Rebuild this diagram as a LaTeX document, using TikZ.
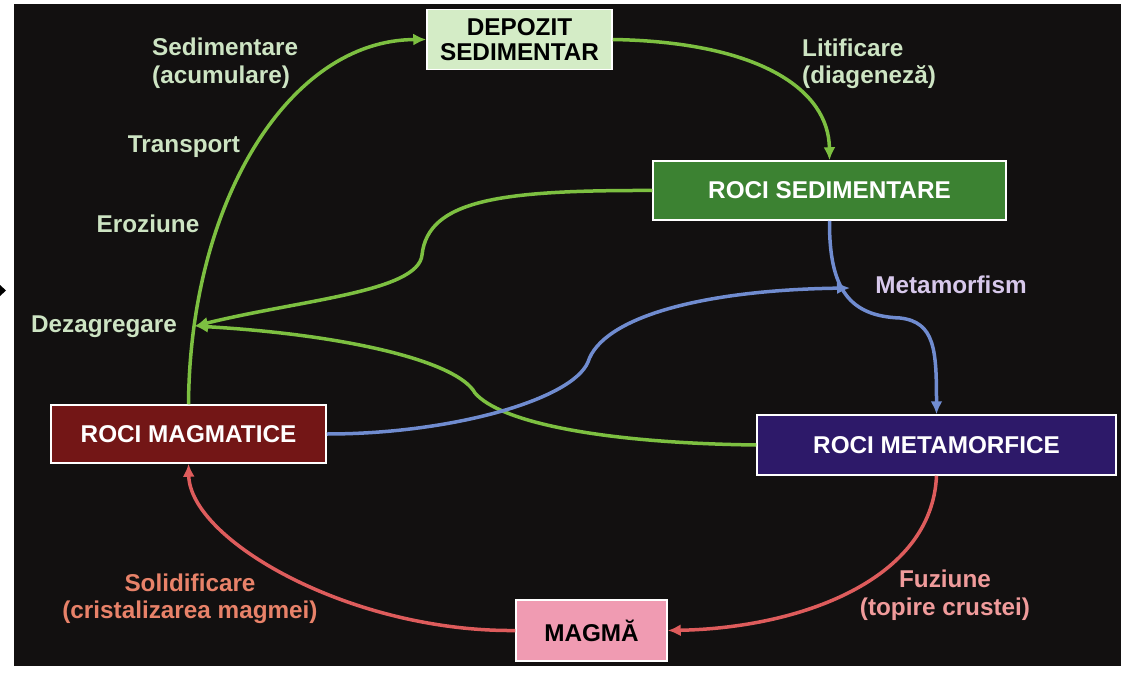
\documentclass[tikz,border=0pt]{standalone}
\usepackage{fontspec}
\setmainfont{Liberation Sans}
\usetikzlibrary{arrows.meta}
\definecolor{bgc}{RGB}{18,16,16}
\definecolor{lgreen}{RGB}{205,228,195}
\definecolor{lmeta}{RGB}{215,200,235}
\definecolor{lfuz}{RGB}{240,155,155}
\definecolor{lsol}{RGB}{232,130,105}
\definecolor{cdep}{RGB}{212,236,198}
\definecolor{csed}{RGB}{60,130,50}
\definecolor{cmag}{RGB}{115,22,22}
\definecolor{cmeta}{RGB}{45,25,105}
\definecolor{cmagma}{RGB}{240,155,178}
\definecolor{agreen}{RGB}{125,192,65}
\definecolor{ablue}{RGB}{112,140,208}
\definecolor{ared}{RGB}{222,92,92}
\begin{document}
\begin{tikzpicture}[x=1pt,y=-1pt,
  font=\fontsize{24.3}{27.5}\selectfont\bfseries,
  box/.style={draw=white, line width=1.5pt, inner sep=0pt, align=center},
  lab/.style={inner sep=0pt},
  conn/.style={line width=3.5pt, -{Latex[length=13pt,width=12pt]}}]
\useasboundingbox (0,0) rectangle (1124,677);
\fill[bgc] (14,4) rectangle (1121,666);
\fill[black] (0,285) -- (6,290.5) -- (0,296) -- cycle;

\node[box, fill=cdep, text=black, minimum width=185pt, minimum height=60pt] (dep) at (519.5,39.5) {DEPOZIT\\[-2pt]SEDIMENTAR};
\node[box, fill=csed, text=white, minimum width=353pt, minimum height=59pt] (sed) at (829.5,190.5) {ROCI SEDIMENTARE};
\node[box, fill=cmag, text=white, minimum width=275pt, minimum height=58pt] (mag) at (188.5,434) {ROCI MAGMATICE};
\node[box, fill=cmeta, text=white, minimum width=359pt, minimum height=60pt] (meta) at (936.5,445) {ROCI METAMORFICE};
\node[box, fill=cmagma, text=black, minimum width=151pt, minimum height=61pt] (magma) at (591.5,630.5) {MAGMĂ};

\node[lab, text=lgreen, anchor=west, align=left] (lsed) at (152,63) {Sedimentare\\(acumulare)};
\node[lab, text=lgreen] (ltr) at (184,147) {Transport};
\node[lab, text=lgreen] (ler) at (148,224) {Eroziune};
\node[lab, text=lgreen] (ldez) at (104,327) {Dezagregare};
\node[lab, text=lgreen, anchor=west, align=left] (llit) at (802,64) {Litificare\\(diageneză)};
\node[lab, text=lmeta] (lmet) at (951,285) {Metamorfism};
\node[lab, text=lfuz, align=center] (lfz) at (945,595) {Fuziune\\(topire crustei)};
\node[lab, text=lsol, align=center] (lsl) at (190,599) {Solidificare\\(cristalizarea magmei)};

\coordinate (dz) at (195,326);
\coordinate (mt) at (850,288);

% green
\draw[conn, agreen] (mag.north) .. controls (190,200) and (290,40) .. (dep.west);
\draw[conn, agreen] (dep.east) .. controls (760,42) and (829,90) .. (sed.north);
\draw[conn, agreen] (sed.west) .. controls (500,190) and (428,200) .. (422,255) .. controls (418,292) and (300,300) .. (dz);
\draw[conn, agreen] (meta.west) .. controls (600,443) and (500,422) .. (475,393) .. controls (458,362) and (350,335) .. (dz);
% blue
\draw[conn, ablue] (mag.east) .. controls (450,434) and (572,400) .. (588,362) .. controls (602,318) and (700,290) .. (mt);
\draw[conn, ablue] (sed.south) .. controls (829,290) and (850,316) .. (900,318) .. controls (935,322) and (936.5,350) .. (meta.north);
% red
\draw[conn, ared] (meta.south) .. controls (932,580) and (800,628) .. (magma.east);
\draw[conn, ared] (magma.west) .. controls (350,632) and (190,540) .. (mag.south);
\end{tikzpicture}
\end{document}
